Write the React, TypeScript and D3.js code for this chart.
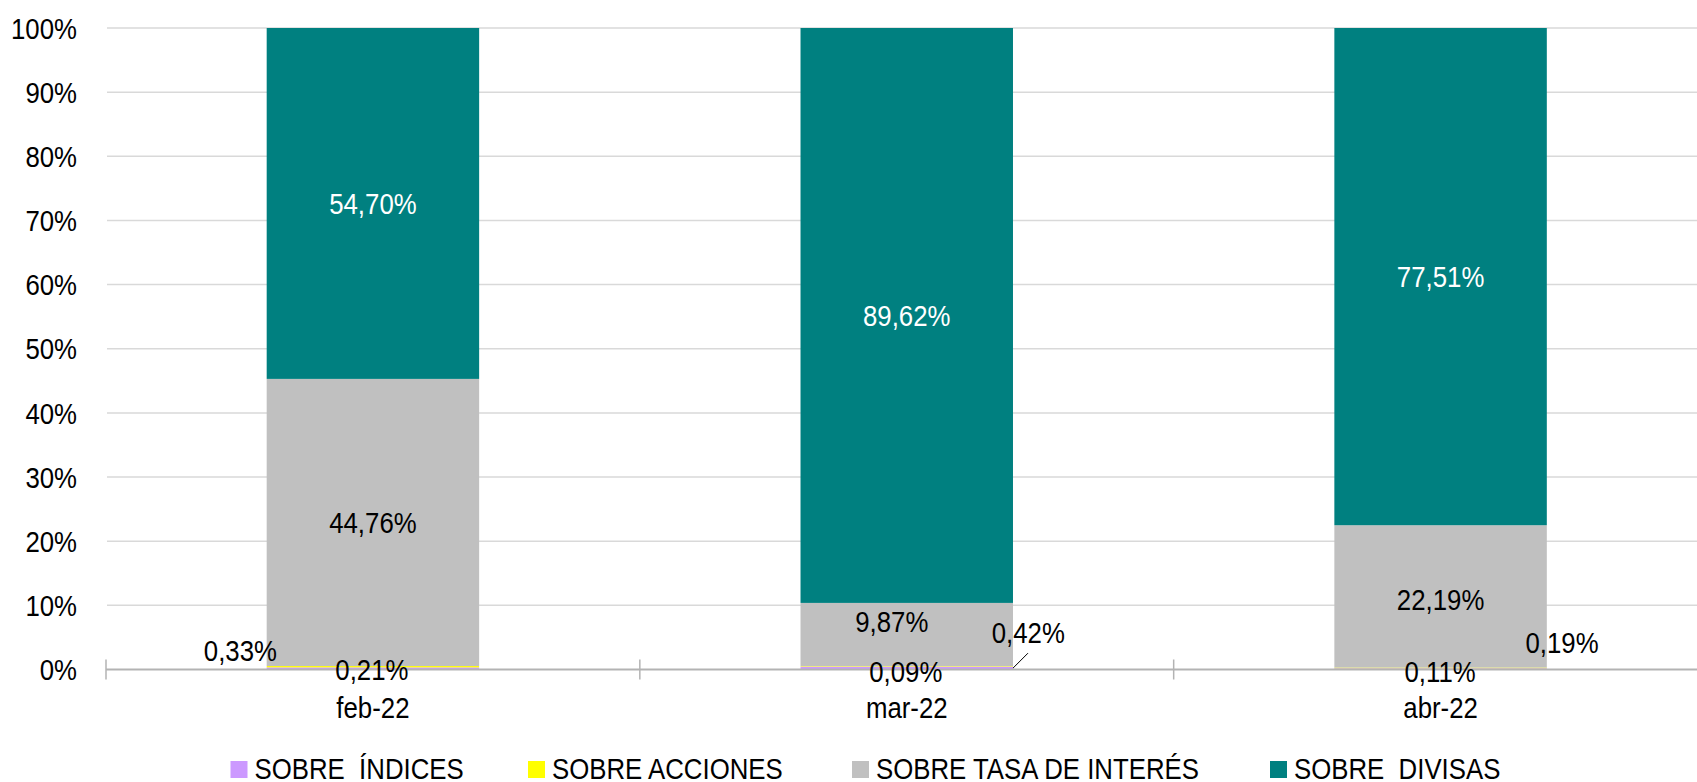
import React from "react";
import * as d3 from "d3";

const categories = ["feb-22", "mar-22", "abr-22"];
const seriesNames = ["SOBRE  ÍNDICES", "SOBRE ACCIONES", "SOBRE TASA DE INTERÉS", "SOBRE  DIVISAS"];
const indices = [0.33, 0.42, 0.19];
const acciones = [0.21, 0.09, 0.11];
const tasa = [44.76, 9.87, 22.19];
const divisas = [54.7, 89.62, 77.51];
const yTicks = [0, 10, 20, 30, 40, 50, 60, 70, 80, 90, 100];

const colors = ["#cc99ff", "#ffff00", "#c0c0c0", "#008080"];
const labelColors = ["#000", "#000", "#000", "#fff"];
// manual label nudges (layout): [dx, dy] per series per category
const labelOffsets = [
  [[-132.5, -18.4], [121.5, -35.4], [121.5, -26.4]],
  [[-1, 2.5], [-1, 4.5], [-0.5, 3.4]],
  [[0, 0], [-15, -13], [0, 2.4]],
  [[0, 0], [0, 0], [0, 0]],
];
const leaderLines = [[false, true, false], [false, false, false], [false, false, false], [false, false, false]];
const legendX = [230.5, 528, 852, 1270];

const W = 1697;
const H = 782;
const FONT = "'Liberation Sans', Arial, sans-serif";
const FS = 30;
const SX = 0.86;

const fmt = (v: number) => v.toFixed(2).replace(".", ",") + "%";

function T({ x, y, anchor = "middle", fill = "#000", children }: any) {
  return (
    <text
      transform={`translate(${x},${y}) scale(${SX},1)`}
      textAnchor={anchor}
      fontFamily={FONT}
      fontSize={FS}
      fill={fill}
      style={{ whiteSpace: "pre" }}
      xmlSpace="preserve"
    >
      {children}
    </text>
  );
}

export default function App() {
  const x = d3.scaleBand<string>().domain(categories).range([106, 1707.5]).padding(0);
  const y = d3.scaleLinear().domain([0, 100]).range([669.5, 28]);
  const barFrac = 0.398;
  const bw = x.bandwidth() * barFrac;

  const table = categories.map((c, i) => ({
    cat: c,
    s0: indices[i],
    s1: acciones[i],
    s2: tasa[i],
    s3: divisas[i],
  }));
  const keys = ["s0", "s1", "s2", "s3"];
  const stacked = d3.stack<any>().keys(keys)(table);

  const boundaries = categories.map((c) => x(c)!).concat([x(categories[categories.length - 1])! + x.bandwidth()]);
  const capOff = 0.358 * FS;

  return (
    <svg
      width={W}
      height={H}
      style={{ position: "absolute", left: 0, top: 0, background: "#fff" }}
    >
      {/* gridlines */}
      {yTicks.filter((t) => t > 0).map((t) => (
        <line key={t} x1={107} x2={W} y1={y(t)} y2={y(t)} stroke="#d9d9d9" strokeWidth={1.5} />
      ))}
      {/* y tick labels */}
      {yTicks.map((t) => (
        <T key={t} x={77} y={y(t) + capOff} anchor="end">
          {t + "%"}
        </T>
      ))}
      {/* bars */}
      {stacked.map((layer, si) => (
        <g key={si} fill={colors[si]}>
          {layer.map((d: any, ci: number) => {
            const cx = x(categories[ci])! + x.bandwidth() / 2;
            return (
              <rect
                key={ci}
                x={cx - bw / 2}
                y={y(d[1])}
                width={bw}
                height={y(d[0]) - y(d[1])}
              />
            );
          })}
        </g>
      ))}
      {/* axis line */}
      <line x1={106} x2={W} y1={y(0)} y2={y(0)} stroke="#b3b3b3" strokeWidth={2} />
      {boundaries.map((bx, i) => (
        <line key={i} x1={bx} x2={bx} y1={y(0) - 10} y2={y(0) + 10} stroke="#b3b3b3" strokeWidth={1.5} />
      ))}
      {/* x labels */}
      {categories.map((c) => (
        <T key={c} x={x(c)! + x.bandwidth() / 2} y={718}>
          {c}
        </T>
      ))}
      {/* data labels */}
      {stacked.map((layer, si) => (
        <g key={si}>
          {layer.map((d: any, ci: number) => {
            const cx = x(categories[ci])! + x.bandwidth() / 2;
            const cy = (y(d[0]) + y(d[1])) / 2;
            const [dx, dy] = labelOffsets[si][ci];
            const v = (d.data as any)[keys[si]];
            return (
              <g key={ci}>
                {leaderLines[si][ci] && (
                  <line
                    x1={cx + bw / 2}
                    y1={cy}
                    x2={cx + bw / 2 + 15}
                    y2={cy - 15}
                    stroke="#000"
                    strokeWidth={1}
                  />
                )}
                <T x={cx + dx} y={cy + dy + capOff} fill={labelColors[si]}>
                  {fmt(v)}
                </T>
              </g>
            );
          })}
        </g>
      ))}
      {/* legend */}
      {seriesNames.map((n, i) => (
        <g key={n}>
          <rect x={legendX[i]} y={761} width={17} height={17} fill={colors[i]} />
          <T x={legendX[i] + 24} y={778.5} anchor="start">
            {n}
          </T>
        </g>
      ))}
    </svg>
  );
}
